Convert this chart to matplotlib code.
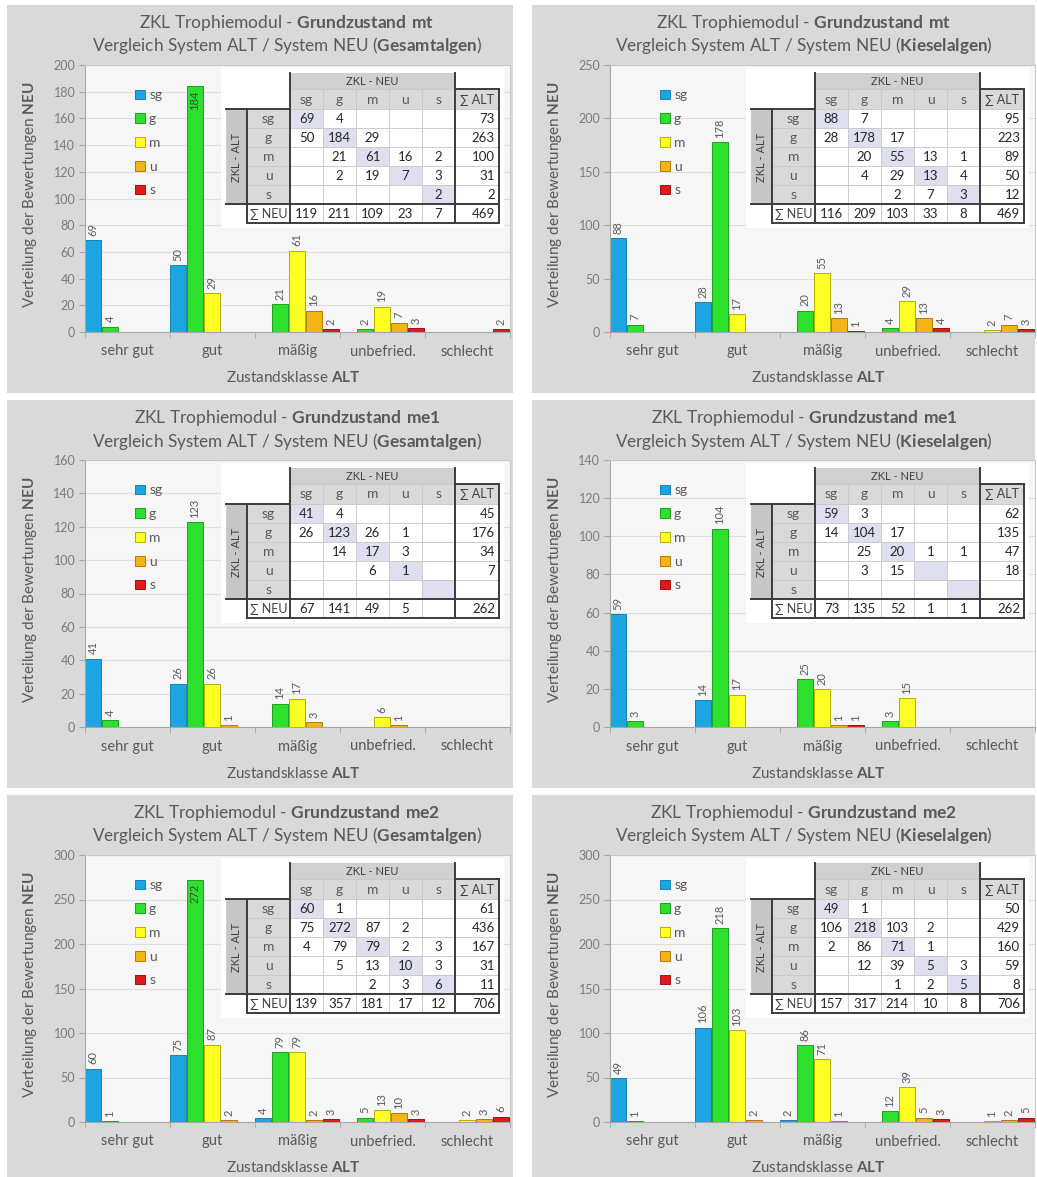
import numpy as np
import matplotlib.pyplot as plt
from matplotlib.patches import Rectangle

plt.rcParams['font.family'] = ['Lato', 'DejaVu Sans']
plt.rcParams['mathtext.fontset'] = 'custom'
plt.rcParams['mathtext.rm'] = 'Lato'
plt.rcParams['mathtext.bf'] = 'Lato:bold'

W, H = 1037, 1177

klassen = ['sehr gut', 'gut', 'mäßig', 'unbefried.', 'schlecht']
kurz = ['sg', 'g', 'm', 'u', 's']
farben = ['#1ba6e2', '#2ee02e', '#ffff22', '#f5b416', '#e01a1a']
kanten = ['#1682b4', '#1f9f1f', '#b5ad00', '#b07d00', '#a01010']

# Zeilen = Zustandsklasse ALT, Spalten = Zustandsklasse NEU (sg, g, m, u, s)
mt_gesamt = [[69, 4, 0, 0, 0],
             [50, 184, 29, 0, 0],
             [0, 21, 61, 16, 2],
             [0, 2, 19, 7, 3],
             [0, 0, 0, 0, 2]]
mt_kiesel = [[88, 7, 0, 0, 0],
             [28, 178, 17, 0, 0],
             [0, 20, 55, 13, 1],
             [0, 4, 29, 13, 4],
             [0, 0, 2, 7, 3]]
me1_gesamt = [[41, 4, 0, 0, 0],
              [26, 123, 26, 1, 0],
              [0, 14, 17, 3, 0],
              [0, 0, 6, 1, 0],
              [0, 0, 0, 0, 0]]
me1_kiesel = [[59, 3, 0, 0, 0],
              [14, 104, 17, 0, 0],
              [0, 25, 20, 1, 1],
              [0, 3, 15, 0, 0],
              [0, 0, 0, 0, 0]]
me2_gesamt = [[60, 1, 0, 0, 0],
              [75, 272, 87, 2, 0],
              [4, 79, 79, 2, 3],
              [0, 5, 13, 10, 3],
              [0, 0, 2, 3, 6]]
me2_kiesel = [[49, 1, 0, 0, 0],
              [106, 218, 103, 2, 0],
              [2, 86, 71, 1, 0],
              [0, 12, 39, 5, 3],
              [0, 0, 1, 2, 5]]

matrizen = [mt_gesamt, mt_kiesel, me1_gesamt, me1_kiesel, me2_gesamt, me2_kiesel]
grundzustand = ['mt', 'mt', 'me1', 'me1', 'me2', 'me2']
algen = ['Gesamtalgen', 'Kieselalgen'] * 3
y_max = [200, 250, 160, 140, 300, 300]
y_step = [20, 50, 20, 20, 50, 50]

grau_txt = '#595959'
fig = plt.figure(figsize=(W / 100, H / 100), dpi=100)


def fbox(x, y, w, h):
    return [x / W, 1 - (y + h) / H, w / W, h / H]


def tabelle(tx, ty, M):
    M = np.array(M)
    cw = [21, 43, 33, 33, 33, 33, 33, 44]
    rh = [16, 20, 19, 19, 19, 19, 19, 19]
    xe = np.concatenate([[0], np.cumsum(cw)])
    ye = np.concatenate([[0], np.cumsum(rh)])
    tw, th = xe[-1], ye[-1]
    tax = fig.add_axes(fbox(tx, ty, tw, th))
    tax.set_xlim(0, tw)
    tax.set_ylim(th, 0)
    tax.axis('off')

    tax.add_patch(Rectangle((-5, -5), tw + 10, th + 10, fc='white', ec='none',
                            clip_on=False, zorder=0))

    def zelle(c0, c1, r0, r1, fc, txt='', ha='center', color='#262626', fs=9.5, rot=0):
        tax.add_patch(Rectangle((xe[c0], ye[r0]), xe[c1] - xe[c0], ye[r1] - ye[r0],
                                fc=fc, ec='#c8c8c8', lw=0.6, clip_on=False, zorder=1))
        if txt != '':
            if ha == 'right':
                x = xe[c1] - 4
            else:
                x = (xe[c0] + xe[c1]) / 2
            tax.text(x, (ye[r0] + ye[r1]) / 2 + 0.5, txt, ha=ha, va='center',
                     fontsize=fs, color=color, rotation=rot, zorder=3)

    zelle(2, 7, 0, 1, '#d0d0d0', 'ZKL - NEU', color='#404040', fs=8)
    for j in range(5):
        zelle(2 + j, 3 + j, 1, 2, '#d9d9d9', kurz[j], color=grau_txt, fs=10)
    zelle(7, 8, 1, 2, '#d9d9d9', '∑ ALT', color='#404040', fs=9)
    zelle(0, 1, 2, 7, '#c6c6c6', 'ZKL - ALT', color='#404040', fs=8, rot=90)
    for i in range(5):
        zelle(1, 2, 2 + i, 3 + i, '#d9d9d9', kurz[i], color=grau_txt, fs=10)
        for j in range(5):
            v = M[i, j]
            zelle(2 + j, 3 + j, 2 + i, 3 + i, '#e0dff0' if i == j else 'white',
                  str(v) if v > 0 else '')
        s = M[i].sum()
        zelle(7, 8, 2 + i, 3 + i, 'white', str(s) if s > 0 else '', ha='right')
    zelle(1, 2, 7, 8, 'white', '∑ NEU', color='#404040', fs=9)
    for j in range(5):
        s = M[:, j].sum()
        zelle(2 + j, 3 + j, 7, 8, 'white', str(s) if s > 0 else '')
    zelle(7, 8, 7, 8, 'white', str(M.sum()), ha='right')

    # dicke Rahmenlinien
    dk = dict(color='#3c3c3c', lw=1.4, solid_capstyle='projecting', zorder=4, clip_on=False)
    tax.plot([xe[2], xe[2]], [0, ye[8]], **dk)
    tax.plot([xe[7], xe[7]], [0, ye[8]], **dk)
    tax.plot([xe[8], xe[8]], [ye[1], ye[8]], **dk)
    tax.plot([xe[7], xe[8]], [ye[1], ye[1]], **dk)
    tax.plot([xe[0], xe[2]], [ye[2], ye[2]], **dk)
    tax.plot([xe[1], xe[1]], [ye[2], ye[8]], **dk)
    tax.plot([xe[0], xe[8]], [ye[7], ye[7]], **dk)
    tax.plot([xe[1], xe[8]], [ye[8], ye[8]], **dk)


for k, M in enumerate(matrizen):
    col, row = k % 2, k // 2
    px = [7, 532][col]
    py = [0, 395, 790][row]
    pw = [506, 503][col]
    ph = min(388, H - (py + 5))
    fig.add_artist(Rectangle((px / W, 1 - (py + 5 + ph) / H), pw / W, ph / H,
                             transform=fig.transFigure, fc='#d9d9d9', ec='none', zorder=-10))

    ax_l, ax_t, ax_w, ax_h = px + 78, py + 65, 425, 267
    ax = fig.add_axes(fbox(ax_l, ax_t, ax_w, ax_h))
    ax.set_facecolor('#f6f6f6')
    ax.set_xlim(0, 5)
    ax.set_ylim(0, y_max[k])
    ax.set_yticks(np.arange(0, y_max[k] + 1, y_step[k]))
    ax.yaxis.grid(True, color='#dedede', lw=0.8)
    ax.set_axisbelow(True)
    for sp in ax.spines.values():
        sp.set_color('#c8c8c8')
        sp.set_linewidth(0.8)
    ax.spines['bottom'].set_color('#a6a6a6')
    ax.spines['left'].set_color('#a6a6a6')

    M = np.array(M)
    for j in range(5):
        idx = [i for i in range(5) if M[i, j] > 0]
        xs = [i + 0.2 * j for i in idx]
        hs = [M[i, j] for i in idx]
        ax.bar(xs, hs, width=0.185, align='edge', color=farben[j],
               edgecolor=kanten[j], lw=0.7)
        for x, v in zip(xs, hs):
            innen = v > 0.85 * y_max[k]
            ax.annotate(str(v), (x + 0.0925, v), xytext=(0, -3 if innen else 3),
                        textcoords='offset points', rotation=90, ha='center',
                        va='top' if innen else 'bottom', fontsize=8,
                        color='#404040' if innen else grau_txt)

    ax.set_xticks(np.arange(5) + 0.5, klassen)
    ax.set_xticks(np.arange(6), minor=True)
    ax.tick_params(axis='x', which='major', length=0, pad=9, labelsize=10.5,
                   labelcolor=grau_txt)
    ax.tick_params(axis='x', which='minor', length=4, color='#a6a6a6')
    ax.tick_params(axis='y', length=4, color='#a6a6a6', pad=3, labelsize=9,
                   labelcolor='#7a7a7a')

    handles = [Rectangle((0, 0), 1, 1, fc=farben[j], ec=kanten[j], lw=0.7) for j in range(5)]
    ax.legend(handles, kurz, loc='upper left', bbox_to_anchor=(0.105, 0.93),
              frameon=False, handlelength=0.7, handleheight=0.7,
              handletextpad=0.3, labelspacing=0.85, fontsize=10,
              labelcolor=grau_txt, borderaxespad=0)

    tabelle(ax_l + 141, ax_t + 8, M)

    cx = px + [280, 272][col]
    fig.text(cx / W, 1 - (py + 23) / H,
             'ZKL Trophiemodul - $\\bf{Grundzustand\\ %s}$' % grundzustand[k],
             ha='center', va='center', fontsize=12.5, color=grau_txt)
    fig.text(cx / W, 1 - (py + 46) / H,
             'Vergleich System ALT / System NEU ($\\bf{%s}$)' % algen[k],
             ha='center', va='center', fontsize=12.3, color=grau_txt)
    fig.text((px + 23) / W, 1 - (ax_t + ax_h / 2 - 4) / H,
             'Verteilung der Bewertungen $\\bf{NEU}$', rotation=90,
             ha='center', va='center', fontsize=11, color=grau_txt)
    fig.text((ax_l + ax_w / 2 - 4) / W, 1 - (py + 378) / H,
             'Zustandsklasse $\\bf{ALT}$', ha='center', va='center',
             fontsize=11, color=grau_txt)

fig.savefig('out.png', dpi=100, facecolor='white')
